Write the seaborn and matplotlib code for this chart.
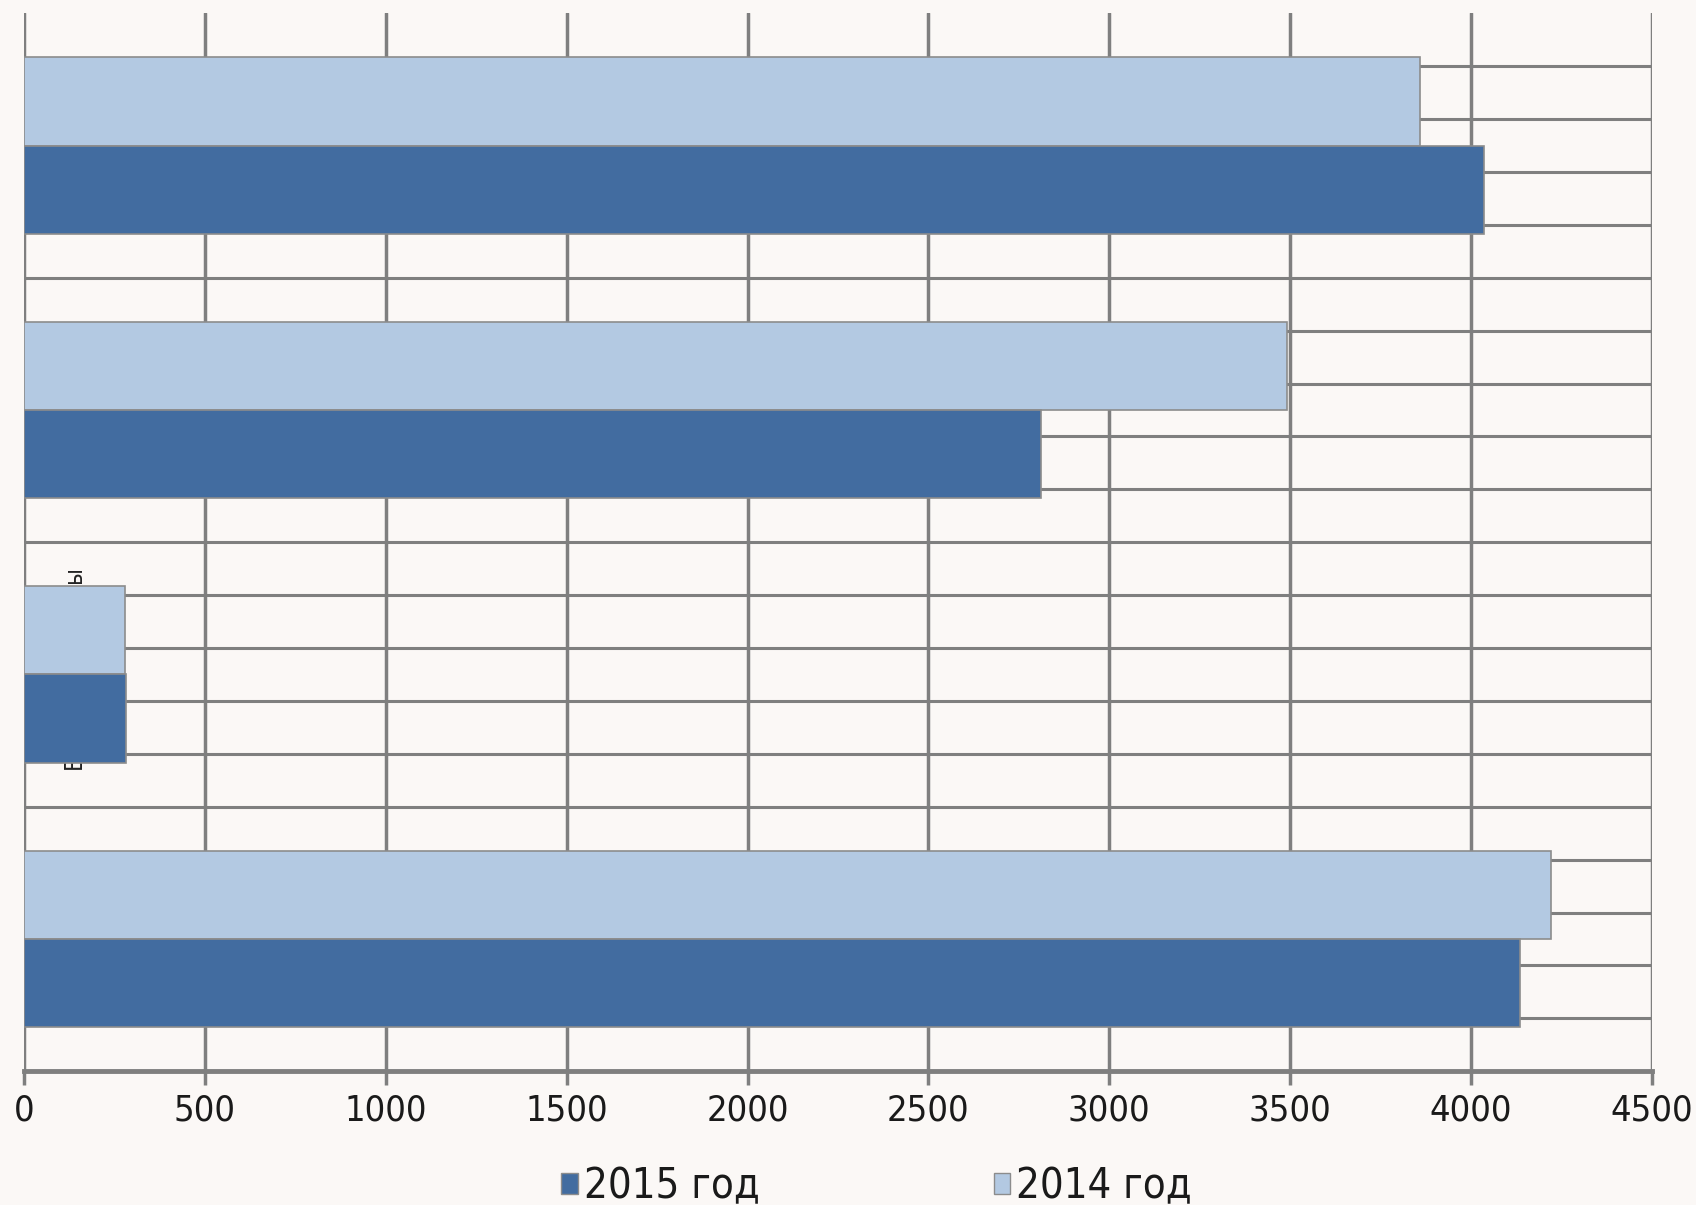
import pandas as pd
import matplotlib.pyplot as plt
import seaborn as sns
from matplotlib.patches import Patch

# данные (оценка по рисунку)
categories = ['к1', 'к2', 'Вредные выбросы', 'к4']
years = ['2014 год', '2015 год']
values_2014 = [3860, 3490, 280, 4220]
values_2015 = [4035, 2810, 282, 4135]
x_ticks = [0, 500, 1000, 1500, 2000, 2500, 3000, 3500, 4000, 4500]

light = '#b3c9e2'
dark = '#426ca0'
grid_col = '#7f7f7f'
bg = '#fbf8f6'

df = pd.DataFrame({
    'Категория': categories * 2,
    'Год': [years[0]] * 4 + [years[1]] * 4,
    'Значение': values_2014 + values_2015,
})

sns.set_theme(style='white')
plt.rcParams['font.family'] = ['DejaVu Sans']
plt.rcParams['font.stretch'] = 'condensed'

fig, ax = plt.subplots(figsize=(16.96, 12.05), dpi=100)
fig.patch.set_facecolor(bg)
ax.set_facecolor(bg)
fig.subplots_adjust(left=0.0142, right=0.974, top=0.989, bottom=0.111)

# подпись категории, спрятанная за столбцами
ax.text(143, 1.98, categories[2], rotation=90, ha='center', va='center',
        fontsize=17, color='#222222', zorder=2)

sns.barplot(data=df, y='Категория', x='Значение', hue='Год', hue_order=years,
            palette=[light, dark], orient='h', width=0.667, saturation=1,
            edgecolor='#8c8c8c', linewidth=1.2, legend=False, ax=ax, zorder=3)

# горизонтальные линии
for k in range(1, 20):
    ax.axhline(-0.5 + 0.2 * k, color=grid_col, lw=2.2, zorder=1)

ax.set_xlim(0, 4500)
ax.set_ylim(3.5, -0.5)
ax.set_xticks(x_ticks)
ax.set_xticklabels([str(v) for v in x_ticks])
ax.xaxis.grid(True, color=grid_col, lw=2.5, zorder=1)
ax.set_axisbelow(True)
ax.set_yticks([])
ax.set_xlabel('')
ax.set_ylabel('')
ax.tick_params(axis='x', direction='out', length=10, width=2.5, color=grid_col,
               labelsize=26, labelcolor='#1a1a1a', pad=6, bottom=True)

for s in ['top', 'right', 'left']:
    ax.spines[s].set_visible(False)
ax.spines['bottom'].set_color(grid_col)
ax.spines['bottom'].set_linewidth(3.5)

handles = [Patch(facecolor=dark, edgecolor='#8c8c8c'),
           Patch(facecolor=light, edgecolor='#8c8c8c')]
fig.legend(handles, ['2015 год', '2014 год'], loc='center',
           bbox_to_anchor=(0.517, 1 - 1186 / 1205), ncol=2, frameon=False,
           fontsize=30, handlelength=0.4, handleheight=0.4, handletextpad=0.15,
           columnspacing=5.6, labelcolor='#1a1a1a')

plt.savefig('out.png', dpi=100, facecolor=bg)
